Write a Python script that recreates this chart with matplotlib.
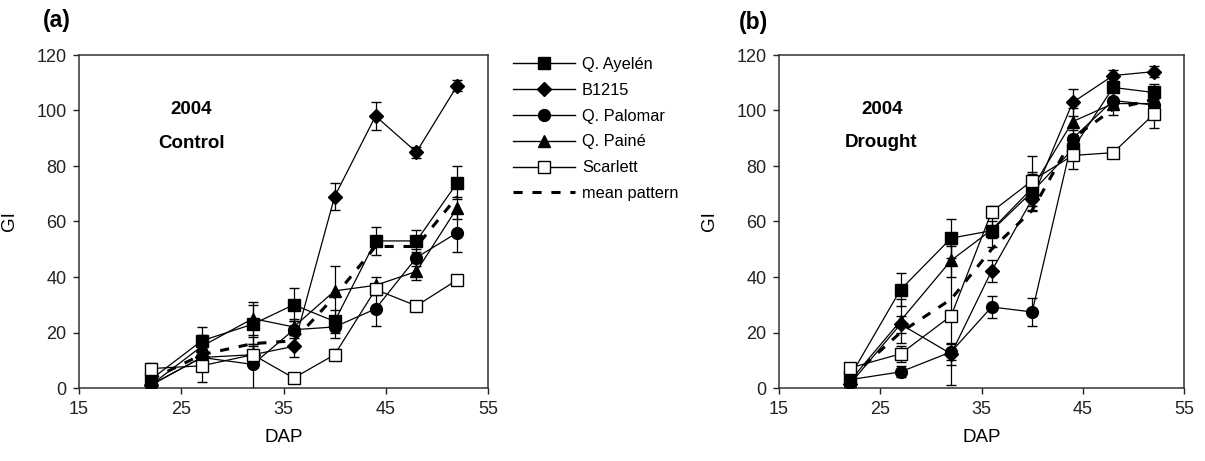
import matplotlib
matplotlib.use("Agg")
import matplotlib.pyplot as plt
from matplotlib.lines import Line2D

plt.rcParams['font.family'] = ['Liberation Sans', 'DejaVu Sans']

dap = [22, 27, 32, 36, 40, 44, 48, 52]
names = ["Q. Ayelén", "B1215", "Q. Palomar", "Q. Painé", "Scarlett"]

# Panel (a): 2004 Control
a_ayelen = [3, 17, 23, 30, 24, 53, 53, 74]
a_ayelen_err = [2, 5, 7, 6, 4, 5, 4, 6]
a_b1215 = [1, 11, 12, 15, 69, 98, 85, 109]
a_b1215_err = [1, 2, 3, 4, 5, 5, 2, 2]
a_palomar = [1, 11, 8.5, 21, 22, 28.5, 47, 56]
a_palomar_err = [1, 3, 10, 3, 4, 6, 3, 7]
a_paine = [1, 15, 25, 22, 35, 37, 42, 65]
a_paine_err = [1, 4, 6, 3, 9, 3, 3, 4]
a_scarlett = [7, 8, 12, 3.6, 12, 35.5, 29.6, 39]
a_scarlett_err = [2, 6, 4, 1, 2, 2, 1, 1]
a_mean = [3, 12, 16, 17, 33, 51, 51, 69]

# Panel (b): 2004 Drought
b_ayelen = [4, 35.4, 54, 56.7, 70.7, 86, 108.3, 106.5]
b_ayelen_err = [1, 6, 7, 6, 7, 4, 4, 3]
b_b1215 = [1.4, 23, 12.3, 42.2, 68, 102.9, 112.6, 114]
b_b1215_err = [1, 3, 4, 4, 4, 5, 2, 2]
b_palomar = [3, 5.8, 13, 29.2, 27.4, 89.9, 103.6, 102]
b_palomar_err = [1, 2, 3, 4, 5, 3, 3, 2]
b_paine = [2.5, 24.2, 46, 57, 72, 96, 102.5, 102.5]
b_paine_err = [1, 8, 6, 3, 5, 5, 4, 3]
b_scarlett = [7.2, 12.3, 26, 63.5, 74.7, 83.8, 84.8, 98.6]
b_scarlett_err = [1, 3, 25, 2, 9, 5, 1, 5]
b_mean = [3.5, 20, 32, 50, 64, 90, 100.5, 104]

xticks = [15, 25, 35, 45, 55]
yticks = [0, 20, 40, 60, 80, 100, 120]

markers = ['s', 'D', 'o', '^', 's']
msizes = [8.5, 7.5, 8.5, 9, 9]
faces = ['black', 'black', 'black', 'black', 'white']

fig = plt.figure(figsize=(12.05, 4.61), dpi=100)
axA = fig.add_axes([79/1205, 1-388/461, (488-79)/1205, (388-55)/461])
axB = fig.add_axes([779/1205, 1-388/461, (1184-779)/1205, (388-55)/461])

panels = [
    (axA, [a_ayelen, a_b1215, a_palomar, a_paine, a_scarlett],
     [a_ayelen_err, a_b1215_err, a_palomar_err, a_paine_err, a_scarlett_err],
     a_mean, "Control", (26, 100.5), (26, 88)),
    (axB, [b_ayelen, b_b1215, b_palomar, b_paine, b_scarlett],
     [b_ayelen_err, b_b1215_err, b_palomar_err, b_paine_err, b_scarlett_err],
     b_mean, "Drought", (25.2, 100.5), (25.1, 88.5)),
]

for ax, series, errs, mean, cond, p1, p2 in panels:
    ax.plot(dap, mean, color='black', lw=2.2, ls=(0, (3, 3.2)), zorder=2)
    for s, e, m, ms, fc in zip(series, errs, markers, msizes, faces):
        ax.errorbar(dap, s, yerr=e, color='black', lw=0.9, elinewidth=0.9,
                    capsize=3.5, capthick=0.9, marker=m, ms=ms,
                    mfc=fc, mec='black', mew=1.0, zorder=3)
    ax.set_xlim(15, 55)
    ax.set_ylim(0, 120)
    ax.set_xticks(xticks)
    ax.set_yticks(yticks)
    ax.tick_params(direction='out', length=4, width=1, labelsize=13,
                   colors='#222222', pad=5)
    for sp in ax.spines.values():
        sp.set_linewidth(1.1)
        sp.set_color('#333333')
    ax.set_xlabel("DAP", fontsize=13.5, labelpad=8)
    ax.set_ylabel("GI", fontsize=13.5, labelpad=13)
    ax.text(p1[0], p1[1], "2004", fontsize=13.5, fontweight='bold',
            ha='center', va='center')
    ax.text(p2[0], p2[1], cond, fontsize=13.5, fontweight='bold',
            ha='center', va='center')

fig.text(57/1205, 1-21/461, "(a)", fontsize=16.5, fontweight='bold',
         ha='center', va='center')
fig.text(753/1205, 1-23/461, "(b)", fontsize=16.5, fontweight='bold',
         ha='center', va='center')

handles = []
for m, ms, fc in zip(markers, msizes, faces):
    handles.append(Line2D([], [], color='black', lw=1.0, marker=m, ms=ms,
                          mfc=fc, mec='black', mew=1.0))
handles.append(Line2D([], [], color='black', lw=2.2, ls=(0, (3, 3.2))))
labels = names + ["mean pattern"]
fig.legend(handles, labels, loc='upper left',
           bbox_to_anchor=(513/1205, 1-57/461), frameon=False,
           fontsize=11.8, handlelength=3.8, handletextpad=0.4,
           labelspacing=0.66, borderpad=0, borderaxespad=0)

fig.savefig("out.png", dpi=100)
